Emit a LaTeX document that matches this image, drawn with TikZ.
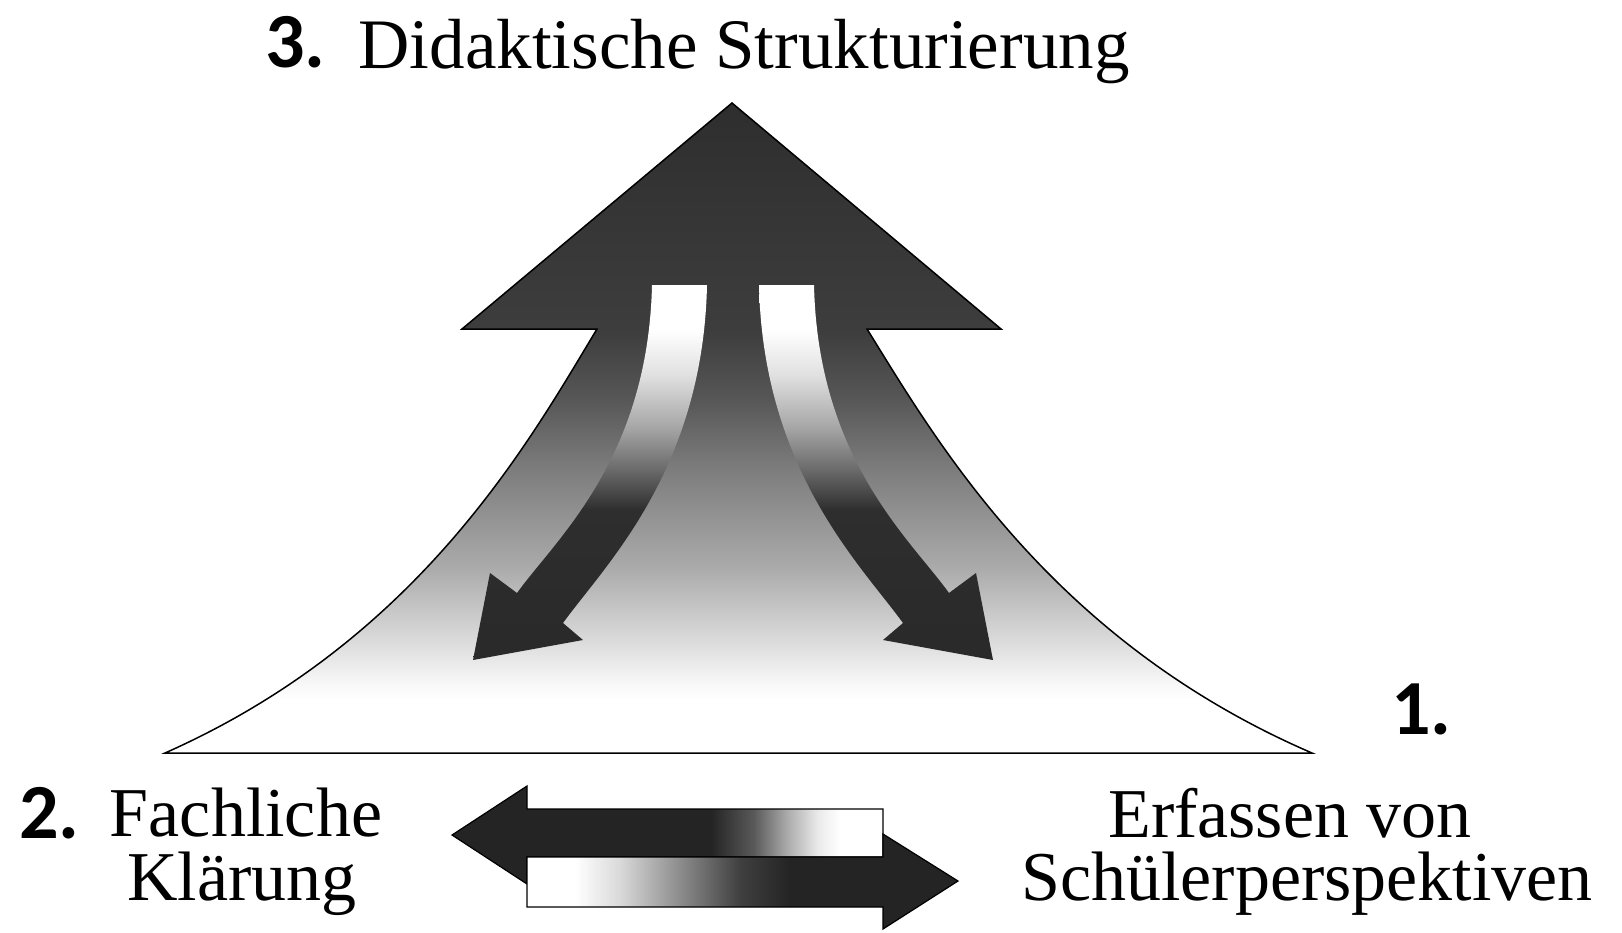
\documentclass[tikz,border=0pt]{standalone}
\usepackage{fontspec}
\setmainfont{Liberation Serif}
\newfontfamily\numfont{Carlito}
\pgfdeclareverticalshading{bigshade}{100bp}{color(0bp)=(white); color(29.1bp)=(white); color(30.4bp)=(black!3); color(33.6bp)=(black!14); color(39.2bp)=(black!33); color(47.2bp)=(black!52); color(52.2bp)=(black!66); color(57.5bp)=(black!76); color(75bp)=(black!82); color(100bp)=(black!82)}
\pgfdeclareverticalshading{innershade}{100bp}{color(0bp)=(black!86); color(45bp)=(black!82); color(50bp)=(black!60); color(56bp)=(black!35); color(63bp)=(black!12); color(69bp)=(white); color(100bp)=(white)}
\pgfdeclarehorizontalshading{leftshade}{100bp}{color(0bp)=(black!86); color(55bp)=(black!86); color(60bp)=(black!65); color(64bp)=(black!32); color(67.5bp)=(black!8); color(70bp)=(white); color(100bp)=(white)}
\pgfdeclarehorizontalshading{rightshade}{100bp}{color(0bp)=(white); color(30.6bp)=(white); color(35.8bp)=(black!15); color(42.7bp)=(black!45); color(49.7bp)=(black!75); color(55.5bp)=(black!86); color(100bp)=(black!86)}
\begin{document}
\begin{tikzpicture}[x=1pt,y=-1pt,
  serif/.style={font=\fontsize{70}{70}\selectfont, inner sep=0pt, anchor=base},
  num/.style={font=\numfont\bfseries\fontsize{78}{78}\selectfont, inner sep=0pt, anchor=base west},
  outline/.style={draw=black, line width=1.5pt, line join=miter}]
\fill[white] (0,0) rectangle (1622,932);
\useasboundingbox (0,0) rectangle (1622,932);
% big arrow / pyramid
\shadedraw[shading=bigshade, outline]
  (732,103) -- (1001,329) -- (867,329)
  .. controls (936,440) and (1050,640) .. (1312,753)
  -- (165,753)
  .. controls (420,640) and (530,440) .. (597,329)
  -- (462,329) -- cycle;
% inner curved arrows
\shade[shading=innershade]
  (652,285) -- (707,285)
  .. controls (703,470) and (605,565) .. (563,623)
  -- (583,640) -- (473,660) -- (490,573) -- (517,593)
  .. controls (555,540) and (648,460) .. (652,285) -- cycle;
\shade[shading=innershade]
  (759,285) -- (814,285)
  .. controls (818,460) and (911,540) .. (949,593)
  -- (976,573) -- (993,660) -- (883,640) -- (903,623)
  .. controls (861,565) and (763,470) .. (759,285) -- cycle;
% bottom double arrows
\shadedraw[shading=leftshade, draw=black, line width=1.2pt]
  (883,809) -- (527,809) -- (527,786) -- (452,835) -- (527,884) -- (527,857) -- (883,857) -- cycle;
\shadedraw[shading=rightshade, draw=black, line width=1.2pt]
  (527,857) -- (883,857) -- (883,834) -- (958,881) -- (883,929) -- (883,907) -- (527,907) -- cycle;
% texts
\node[num] (n3) at (265,67) {3.};
\node[serif, font=\fontsize{71}{71}\selectfont] (didaktik) at (744,68) {Didaktische Strukturierung};
\node[num] (n2) at (19,838) {2.};
\node[serif] (fach1) at (246,836) {Fachliche};
\node[serif] (fach2) at (242,900) {Klärung};
\node[num] (n1) at (1391,734) {1.};
\node[serif] (erf1) at (1290,837) {Erfassen von};
\node[serif] (erf2) at (1307,900) {Schülerperspektiven};
\end{tikzpicture}
\end{document}
